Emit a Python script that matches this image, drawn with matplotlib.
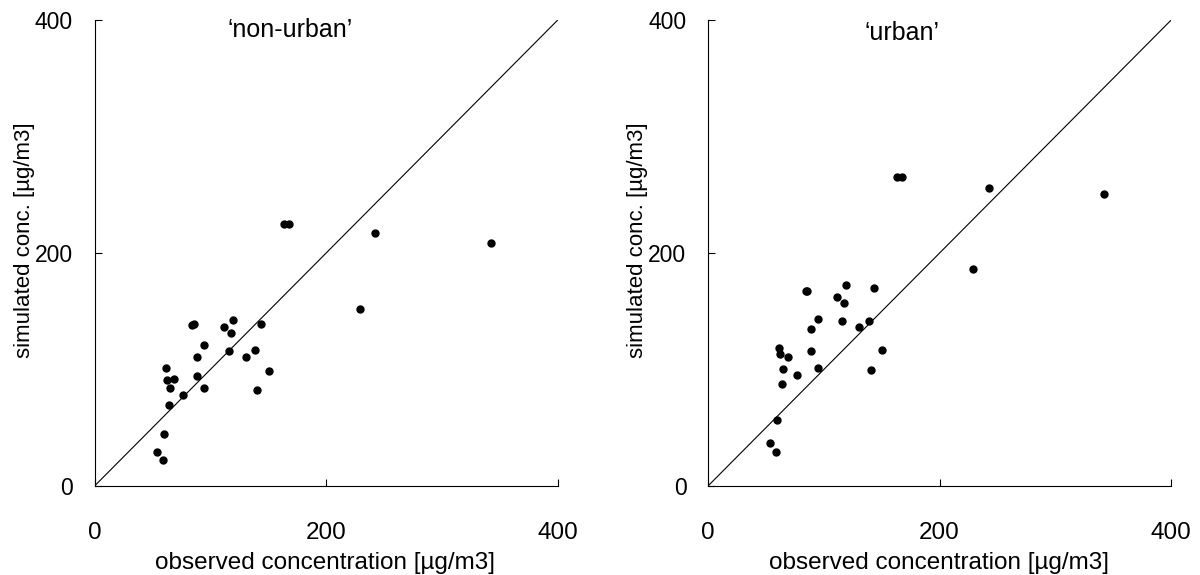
import matplotlib.pyplot as plt

plt.rcParams['font.family'] = ['Liberation Sans', 'DejaVu Sans']

# observed concentration at each station (same for both panels)
observed = [84.5, 85.8, 111.5, 119.6, 143.5, 117.5, 94.7, 115.7, 88.7, 130.5,
            138.9, 150.5, 140.4, 61.4, 62.6, 68.8, 65.0, 88.7, 94.7, 76.7,
            64.0, 59.7, 53.9, 58.7, 163.4, 167.8, 242.3, 342.3, 229.2]

# simulated concentration, 'non-urban' run
sim_nonurban = [138.2, 138.8, 136.8, 142.5, 139.0, 131.0, 121.0, 115.6, 111.0, 111.0,
                116.5, 99.0, 82.1, 101.5, 91.0, 91.8, 84.4, 94.7, 84.4, 77.8,
                69.5, 44.4, 29.2, 22.3, 224.9, 224.9, 216.9, 208.3, 151.9]

# simulated concentration, 'urban' run
sim_urban = [167.6, 167.6, 162.2, 172.5, 169.7, 157.4, 143.3, 141.6, 135.0, 136.5,
             141.4, 116.5, 99.8, 118.7, 113.3, 111.0, 100.4, 115.6, 101.5, 95.5,
             87.3, 56.7, 36.7, 29.2, 265.0, 265.0, 256.0, 250.9, 186.0]

ticks = [0, 200, 400]
panels = [('\u2018non-urban\u2019', sim_nonurban, 0.0788, 168.5, 391),
          ('\u2018urban\u2019', sim_urban, 0.59, 167.5, 389)]

fig = plt.figure(figsize=(12, 5.75), dpi=100)

for title, sim, left, tx, ty in panels:
    ax = fig.add_axes([left, 0.1548, 0.386, 0.8104])
    ax.plot([0, 400], [0, 400], color='black', lw=0.8)
    ax.plot(observed, sim, 'o', color='black', ms=5, mec='black')
    ax.set_xlim(0, 400)
    ax.set_ylim(0, 400)
    ax.set_xticks(ticks)
    ax.set_yticks(ticks)
    ax.spines['top'].set_visible(False)
    ax.spines['right'].set_visible(False)
    ax.tick_params(axis='x', direction='in', length=5, pad=26, labelsize=17.5)
    ax.tick_params(axis='y', direction='in', length=5, pad=15.5, labelsize=16.5)
    ax.set_xlabel('observed concentration [\u00b5g/m3]', fontsize=17.5, va='center')
    ax.xaxis.set_label_coords(0.498, -0.165)
    ax.set_ylabel('simulated conc. [\u00b5g/m3]', fontsize=16, va='center')
    ax.yaxis.set_label_coords(-0.152, 0.528)
    ax.text(tx, ty, title, ha='center', va='center', fontsize=18)

fig.savefig('out.png', dpi=100)
